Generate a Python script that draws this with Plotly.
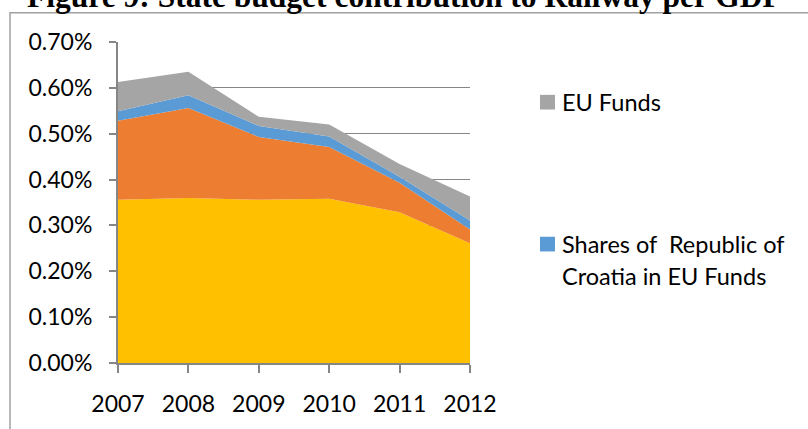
import plotly.graph_objects as go

# Railway funding as a share of GDP, stacked by source
years = [2007, 2008, 2009, 2010, 2011, 2012]
state_budget = [0.00356, 0.00360, 0.00356, 0.00358, 0.00329, 0.00261]
other_national = [0.00172, 0.00196, 0.00137, 0.00113, 0.00064, 0.00030]
croatia_share_eu = [0.00021, 0.00028, 0.00024, 0.00023, 0.00013, 0.00020]
eu_funds = [0.00064, 0.00051, 0.00020, 0.00026, 0.00028, 0.00052]

series_names = ["State budget", "Other national sources",
                "Shares of\u00a0 Republic of Croatia in EU Funds", "EU Funds"]
series_values = [state_budget, other_national, croatia_share_eu, eu_funds]
series_colors = ["#FFC000", "#ED7D31", "#5B9BD5", "#A5A5A5"]

y_ticks = [0, 0.001, 0.002, 0.003, 0.004, 0.005, 0.006, 0.007]
title_text = "Figure 9: State budget contribution to Railway per GDP"

W, H = 808, 429
L, R, T, B = 118, 470, 42, 370


def px_x(x):
    return (x - L) / (R - L)


def px_y(y):
    return (B - y) / (B - T)


fig = go.Figure()
for name, vals, col in zip(series_names, series_values, series_colors):
    fig.add_trace(go.Scatter(
        x=years, y=vals, name=name.replace("\u00a0", ""), stackgroup="one",
        mode="lines", line=dict(width=0, color=col), fillcolor=col,
        showlegend=False,
    ))

axis_grey = "#868686"
font_main = "Lato, 'Open Sans', sans-serif"

fig.update_xaxes(
    range=[years[0], years[-1]], tickvals=years, ticktext=[str(y) for y in years],
    showgrid=False, showline=True, linecolor=axis_grey, linewidth=2,
    ticks="outside", ticklen=8, tickcolor=axis_grey, tickwidth=1.5,
    ticklabelstandoff=11, zeroline=False,
    tickfont=dict(family=font_main, size=23, color="#000000"),
)
fig.update_yaxes(
    range=[0, 0.007], tickvals=y_ticks, tickformat=".2%",
    showgrid=True, gridcolor=axis_grey, gridwidth=1.4,
    showline=True, linecolor=axis_grey, linewidth=2,
    ticks="outside", ticklen=7, tickcolor=axis_grey, tickwidth=1.5,
    ticklabelstandoff=12, zeroline=False,
    tickfont=dict(family=font_main, size=23, color="#000000"),
)

shapes = [
    # chart frame
    dict(type="rect", xref="paper", yref="paper",
         x0=px_x(10), x1=px_x(900), y0=px_y(12), y1=px_y(520),
         line=dict(color="#A0A0A0", width=1.5), fillcolor="rgba(0,0,0,0)",
         layer="below"),
    # legend swatches
    dict(type="rect", xref="paper", yref="paper",
         x0=px_x(540), x1=px_x(555), y0=px_y(96), y1=px_y(111),
         line=dict(width=0), fillcolor=series_colors[3]),
    dict(type="rect", xref="paper", yref="paper",
         x0=px_x(540), x1=px_x(555), y0=px_y(241), y1=px_y(256),
         line=dict(width=0), fillcolor=series_colors[2]),
]

legend_font = dict(family=font_main, size=23.5, color="#000000")
annotations = [
    dict(text="<b>" + title_text + "</b>", xref="paper", yref="paper",
         x=px_x(404), y=px_y(-5), xanchor="center", yanchor="middle",
         showarrow=False,
         font=dict(family="'Liberation Serif', 'Times New Roman', serif",
                   size=31.5, color="#000000")),
    dict(text="EU Funds", xref="paper", yref="paper",
         x=px_x(560), y=px_y(103), xanchor="left", yanchor="middle",
         showarrow=False, font=legend_font),
    dict(text="Shares of\u00a0 Republic of", xref="paper", yref="paper",
         x=px_x(560), y=px_y(248), xanchor="left", yanchor="middle",
         showarrow=False, font=legend_font),
    dict(text="Croatia in EU Funds", xref="paper", yref="paper",
         x=px_x(560), y=px_y(281), xanchor="left", yanchor="middle",
         showarrow=False, font=legend_font),
]

fig.update_layout(
    width=W, height=H,
    margin=dict(l=L, r=W - R, t=T, b=H - B, pad=0),
    paper_bgcolor="#FFFFFF", plot_bgcolor="#FFFFFF",
    shapes=shapes, annotations=annotations,
    showlegend=False,
)

fig.write_html("out.html")
